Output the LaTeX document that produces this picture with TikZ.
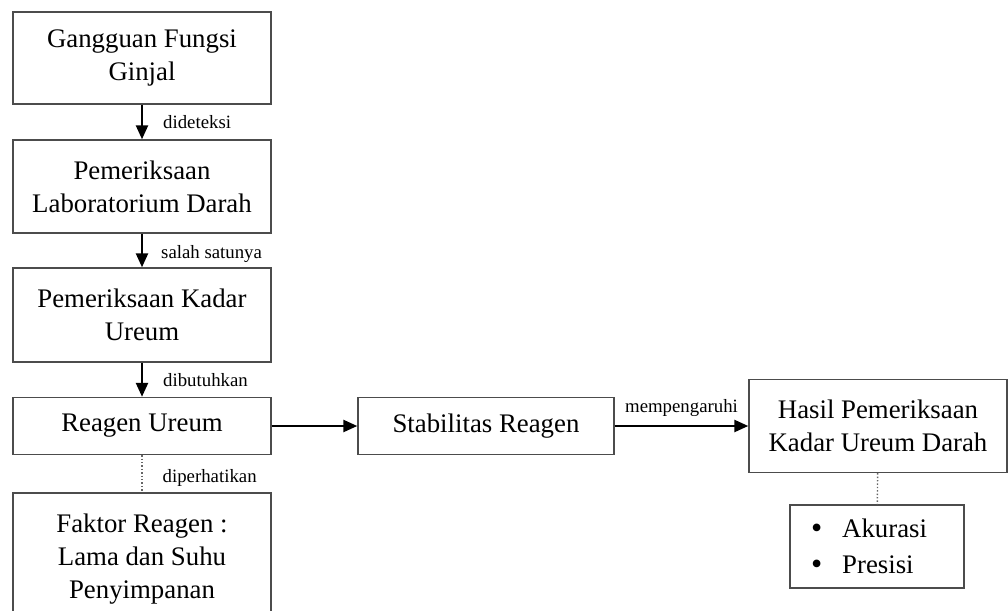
\documentclass[tikz,border=0pt]{standalone}
\usepackage{fontspec}
\setmainfont{Liberation Serif}
\usetikzlibrary{arrows.meta, positioning}

\newcommand{\bulletmark}{\raisebox{-0.6pt}{\fontsize{16}{18}\selectfont\textbullet}\hspace{10pt}}

\begin{document}
\begin{tikzpicture}[
x=0.5pt, y=-0.5pt,
box/.style={
rectangle,
draw=black!70,
line width=0.7pt,
minimum width=129pt,
inner sep=0 pt,
align=center,
font=\fontsize{13.4}{16.5}\selectfont,
},
flow/.style={line width=1.2pt, arrows={-Triangle[length=7pt, width=6pt]}},
link/.style={black!60, line width=0.7pt, densely dotted},
lbl/.style={text=black, font=\fontsize{9.4}{11}\selectfont, inner sep=0 pt},
]
\useasboundingbox (0,0) rectangle (1008,611);

% left column
\node [box, minimum height=46pt] at (142,58) (gangguan)
{Gangguan Fungsi\\Ginjal};
\node [box, minimum height=46.5pt] at (142,186.5) (lab)
{Pemeriksaan\\Laboratorium Darah};
\node [box, minimum height=47pt] at (142,315) (kadar)
{Pemeriksaan Kadar\\Ureum};
\node [box, minimum height=28.5pt] at (142,426) (reagen) {Reagen Ureum};
\node [box, minimum height=66pt] at (142,559) (faktor)
{Faktor Reagen :\\Lama dan Suhu\\Penyimpanan};

% right part
\node [box, minimum width=128pt, minimum height=28.5pt] at (486,426) (stabil)
{Stabilitas Reagen};
\node [box, minimum height=46.5pt] at (878,426) (hasil)
{Hasil Pemeriksaan\\Kadar Ureum Darah};
\node [box, minimum width=87pt, minimum height=41.5pt, text width=66pt,
align=left, font=\fontsize{13.4}{18}\selectfont] at (877,546.5) (mutu)
{\bulletmark Akurasi\\\bulletmark Presisi};

% connectors
\draw [flow] (gangguan) -- node[midway, right=10pt, lbl] {dideteksi} (lab);
\draw [flow] (lab) -- node[pos=0.6, right=9pt, lbl] {salah satunya} (kadar);
\draw [flow] (kadar) -- node[midway, right=10pt, lbl] {dibutuhkan} (reagen);
\draw [link] (reagen) -- node[pos=0.62, right=10pt, lbl] {diperhatikan} (faktor);
\draw [flow] (reagen) -- (stabil);
\draw [flow] (stabil) -- node[midway, above=4pt, lbl] {mempengaruhi} (hasil);
\draw [link] (hasil) -- (mutu);

\end{tikzpicture}
\end{document}
